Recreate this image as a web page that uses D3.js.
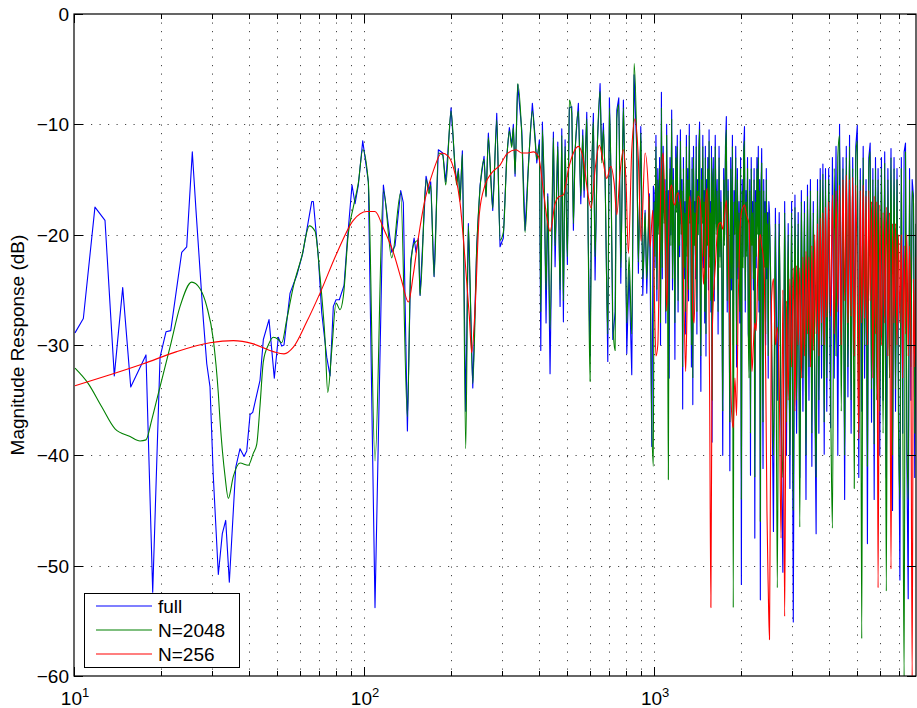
<!DOCTYPE html>
<html>
<head>
<meta charset="utf-8">
<script src="https://cdn.jsdelivr.net/npm/d3@7"></script>
<style>
	html, body { margin: 0; padding: 0; background: #fff; }
	svg { display: block; font-family: "Liberation Sans", Arial, Helvetica, sans-serif; }
</style>
</head>
<body>
<div id="chart"></div>
<script>
// ---- data (frequency in Hz, magnitude in dB) ----

// "full" response, low band
const fullLowFreq = [10.08, 10.77, 11.81, 12.79, 13.77, 14.72, 15.69, 17.71, 18.68, 19.80,
	20.76, 21.55, 23.52, 24.47, 25.58, 26.34, 27.92, 28.69, 29.44, 30.22,
	31.45, 32.46, 33.35, 34.32, 36.11, 37.36, 38.57, 39.41, 40.46, 41.33,
	43.79, 44.96, 47.03, 49.05, 50.63, 52.02, 52.98, 55.58, 58.61, 61.47,
	66.02, 66.86, 69.56, 71.48, 74.37, 76.35, 78.37, 80.07, 82.20, 85.31,
	87.58, 90.90, 93.12, 95.59, 98.97, 103.5, 109.1, 116.6, 124.6, 127.9,
	133.8, 136.6, 141.1, 144.9, 148.8, 151.1, 153.9, 156.0, 163.6, 167.6,
	169.8, 174.4, 180.4, 186.8, 191.3, 199.5, 206.0, 208.8, 211.4, 214.3,
	218.3, 224.2, 228.9, 237.1, 244.7, 251.2, 259.3, 263.4, 268.3, 277.8,
	286.8, 294.4, 302.2, 310.5, 317.0, 323.1, 327.2, 331.7, 338.8]
const fullLowDb = [-28.9, -27.6, -17.5, -18.7, -32.8, -24.8, -33.8, -30.9, -52.4, -31.1,
	-28.8, -28.7, -21.6, -21.1, -12.5, -17.8, -27.7, -31.7, -33.8, -41.9,
	-50.8, -47.1, -45.9, -51.5, -41.1, -39.4, -40.1, -39.6, -36.3, -36.1,
	-33.2, -29.5, -27.7, -33.0, -29.3, -30.1, -30.0, -25.3, -23.7, -21.7,
	-17.0, -17.0, -22.0, -27.1, -31.1, -32.8, -26.5, -25.9, -25.9, -24.6,
	-20.5, -15.5, -17.2, -15.5, -11.5, -15.2, -53.8, -15.5, -21.6, -21.0,
	-16.0, -17.1, -37.8, -22.3, -20.3, -21.6, -20.3, -25.5, -14.7, -16.0,
	-15.2, -23.8, -12.3, -12.6, -15.2, -8.5, -13.9, -15.2, -14.0, -16.8,
	-12.4, -36.0, -19.0, -33.9, -21.0, -15.5, -12.9, -16.5, -10.8, -17.8,
	-9.0, -21.1, -20.3, -12.9, -10.3, -11.9, -10.0, -14.7, -6.4]

// N=2048 response, low band
const n2048LowFreq = [10.08, 11.20, 12.46, 13.85, 15.61, 16.89, 17.71, 18.53, 19.53, 21.43,
	23.21, 25.46, 27.20, 28.69, 30.22, 31.45, 31.87, 33.17, 34.05, 35.43,
	37.36, 39.91, 41.53, 42.66, 43.79, 44.96, 46.77, 48.66, 50.63, 52.02,
	54.14, 57.05, 60.98, 64.77, 67.78, 70.51, 73.37, 74.97, 77.38, 80.07,
	82.65, 84.84, 88.28, 91.84, 95.59, 98.97, 103.5, 109.1, 116.6, 124.6,
	133.8, 141.1, 144.9, 148.8, 153.9, 156.0, 163.6, 167.6, 169.8, 174.4,
	180.4, 186.8, 191.3, 199.5, 206.0, 208.8, 211.4, 214.3, 218.3, 224.2,
	228.9, 237.1, 244.7, 251.2, 259.3, 263.4, 268.3, 277.8, 286.8, 294.4,
	302.2, 310.5, 317.0, 323.1, 327.2, 331.7, 338.8]
const n2048LowDb = [-32.1, -33.5, -35.6, -37.6, -38.3, -38.7, -38.6, -36.8, -34.4, -30.2,
	-26.5, -24.3, -24.9, -26.5, -29.5, -34.4, -36.8, -41.9, -43.9, -41.9,
	-40.7, -40.9, -39.8, -39.0, -35.5, -31.5, -30.0, -29.3, -29.5, -29.8,
	-27.7, -24.7, -22.0, -19.2, -19.7, -23.8, -29.5, -34.3, -30.5, -26.2,
	-26.8, -25.6, -19.9, -17.5, -15.3, -12.3, -15.3, -40.5, -16.0, -22.1,
	-16.2, -36.5, -22.8, -20.8, -20.5, -25.5, -15.0, -16.3, -15.5, -23.8,
	-12.6, -12.8, -15.5, -8.8, -14.0, -15.5, -14.2, -17.0, -12.7, -39.4,
	-19.2, -33.5, -21.2, -15.8, -13.2, -16.6, -11.2, -17.6, -9.6, -20.5,
	-19.8, -13.2, -10.6, -12.1, -10.3, -14.5, -6.3]

// mid band (350 Hz - 1 kHz), shared frequencies for full and N=2048
const midFreq = [349.8, 359.1, 368.6, 380.5, 388.8, 394.1, 402.3, 406.8, 412.0, 418.6,
	424.2, 430.0, 437.9, 449.6, 455.7, 465.6, 474.2, 480.6, 486.8, 493.4,
	502.4, 510.5, 520.3, 527.0, 534.1, 548.3, 558.9, 567.8, 573.7, 586.1,
	592.2, 601.7, 609.8, 617.6, 626.0, 637.5, 651.4, 660.2, 668.7, 677.8,
	692.5, 701.4, 710.9, 720.6, 733.8, 743.8, 755.7, 767.8, 783.8, 794.3,
	805.1, 819.9, 837.7, 853.2, 871.6, 882.8, 899.9, 914.3, 931.2, 943.8,
	963.4, 982.0, 994.5]
const fullMidDb = [-10.5, -19.6, -13.7, -8.1, -11.1, -13.5, -11.4, -30.5, -9.8, -16.6,
	-28.0, -16.3, -32.6, -10.7, -22.9, -11.6, -26.5, -10.4, -27.9, -11.4,
	-22.7, -8.5, -8.4, -19.6, -12.3, -8.1, -17.2, -10.5, -16.6, -8.9,
	-19.7, -31.0, -14.1, -9.0, -24.1, -11.7, -6.3, -13.2, -9.9, -14.7,
	-31.5, -7.6, -15.3, -29.5, -27.0, -8.7, -7.6, -24.4, -7.8, -16.0,
	-30.8, -23.2, -32.7, -5.5, -12.3, -23.5, -10.2, -25.5, -17.8, -25.3,
	-16.3, -39.2, -15.6]
const n2048MidDb = [-11.0, -19.8, -14.0, -8.8, -11.5, -13.2, -11.8, -27.0, -10.5, -16.0,
	-25.0, -16.5, -28.5, -11.2, -21.0, -12.0, -25.0, -11.0, -26.0, -12.0,
	-22.0, -7.8, -9.0, -19.0, -12.8, -8.8, -16.5, -11.0, -16.0, -9.5,
	-19.5, -33.3, -14.5, -9.8, -22.0, -12.0, -7.0, -13.5, -10.5, -15.0,
	-29.0, -8.5, -15.0, -28.0, -30.5, -9.5, -8.2, -23.0, -8.5, -16.5,
	-28.0, -22.0, -29.0, -4.5, -12.0, -22.5, -10.8, -24.0, -18.0, -24.0,
	-16.5, -37.0, -41.0]

// fine band 1 kHz - 2.5 kHz, full and N=2048
const fineFreq = [1000, 1007.5, 1015, 1022.5, 1030, 1037.5, 1045, 1052.5, 1060, 1067.5,
	1075, 1082.5, 1090, 1097.5, 1105, 1112.5, 1120, 1127.5, 1135, 1142.5,
	1150, 1157.5, 1165, 1172.5, 1180, 1187.5, 1195, 1202.5, 1210, 1217.5,
	1225, 1232.5, 1240, 1247.5, 1255, 1262.5, 1270, 1277.5, 1285, 1292.5,
	1300, 1307.5, 1315, 1322.5, 1330, 1337.5, 1345, 1352.5, 1360, 1367.5,
	1375, 1382.5, 1390, 1397.5, 1405, 1412.5, 1420, 1427.5, 1435, 1442.5,
	1450, 1457.5, 1465, 1472.5, 1480, 1487.5, 1495, 1502.5, 1510, 1517.5,
	1525, 1532.5, 1540, 1547.5, 1555, 1562.5, 1570, 1577.5, 1585, 1592.5,
	1600, 1612.5, 1625, 1637.5, 1650, 1662.5, 1675, 1687.5, 1700, 1712.5,
	1725, 1737.5, 1750, 1762.5, 1775, 1787.5, 1800, 1812.5, 1825, 1837.5,
	1850, 1862.5, 1875, 1887.5, 1900, 1912.5, 1925, 1937.5, 1950, 1962.5,
	1975, 1987.5, 2000, 2012.5, 2025, 2037.5, 2050, 2062.5, 2075, 2087.5,
	2100, 2112.5, 2125, 2137.5, 2150, 2162.5, 2175, 2187.5, 2200, 2212.5,
	2225, 2237.5, 2250, 2262.5, 2275, 2287.5, 2300, 2312.5, 2325, 2337.5,
	2350, 2362.5, 2375, 2387.5, 2400, 2412.5, 2425, 2437.5, 2450, 2462.5,
	2475, 2487.5]
const fullFineDb = [-16, -23, -11, -26, -14, -19, -13, -30, -7.1, -24,
	-12, -18, -15, -28, -10, -21, -16, -33, -13, -20,
	-8.7, -25, -14, -19, -31.3, -12, -17, -11, -27, -16,
	-22, -10.5, -19, -15, -35.8, -13, -24, -17, -29, -11,
	-21, -14, -26, -10, -18, -16, -32, -13, -35.4, -12,
	-20, -17, -24, -11, -29, -15, -19, -12, -9.8, -26,
	-34.2, -14, -18, -11, -23, -16, -28, -12, -31, -15,
	-20, -13, -25, -10.5, -22, -17, -27, -12, -38.8, -15,
	-13, -26, -11, -19, -15, -29, -12, -22, -16, -24,
	-40, -14, -20, -12, -9.3, -27, -15, -21, -41.4, -13,
	-25, -11, -30, -16, -19, -12, -32, -14, -24, -17,
	-28, -13, -51.7, -15, -22, -12, -10.2, -27, -16, -21,
	-13, -29, -30, -15, -41.8, -13, -20, -17, -25, -14,
	-47.5, -16, -23, -13, -19, -12, -27, -15, -53.1, -16,
	-12.2, -29, -41.2, -15, -22, -17, -30, -14, -24, -18,
	-33, -17]
const n2048FineDb = [-17, -22, -12, -25, -15, -20, -14, -28, -8.5, -23,
	-13, -19, -16, -27, -11, -22, -42.2, -18, -14, -21,
	-9.5, -24, -15, -20, -28, -13, -18, -12, -26, -17,
	-21, -11.5, -20, -16, -32, -14, -23, -18, -27, -12,
	-22, -15, -25, -11, -19, -17, -30, -14, -33, -13,
	-21, -18, -23, -12, -27, -16, -20, -13, -10.5, -25,
	-31, -15, -19, -12, -22, -17, -27, -13, -29, -16,
	-21, -14, -24, -11.5, -23, -18, -26, -13, -35, -16,
	-14, -25, -12, -20, -16, -27, -13, -23, -17, -23,
	-36, -15, -21, -13, -10.5, -26, -16, -22, -37, -14,
	-24, -12, -53.8, -17, -20, -13, -30, -15, -23, -18,
	-27, -14, -44, -16, -23, -13, -11.5, -26, -17, -22,
	-14, -28, -33, -16, -38, -14, -21, -18, -24, -15,
	-42, -17, -22, -14, -20, -13, -26, -16, -46, -17,
	-13.5, -28, -37, -16, -23, -18, -29, -15, -23, -19,
	-31, -18]

// N=256 response below 1 kHz
const n256Freq = [10.08, 13.31, 17.34, 22.60, 29.44, 35.43, 41.53, 48.66, 52.98, 57.05,
	63.45, 70.51, 80.51, 91.84, 102.2, 109.1, 116.6, 126.2, 134.9, 142.2,
	147.9, 153.9, 162.3, 173.4, 185.3, 195.3, 206.0, 214.3, 223.0, 230.7,
	235.1, 241.4, 249.8, 261.4, 275.6, 294.4, 310.5, 334.3, 349.8, 363.9,
	383.5, 399.1, 415.3, 426.6, 437.9, 455.7, 467.7, 486.8, 506.4, 527.0,
	548.3, 570.5, 593.6, 606.5, 626.0, 647.7, 668.7, 686.9, 709.0, 728.0,
	743.8, 763.2, 783.8, 800.6, 815.4, 837.7, 860.0, 882.8, 902.1, 931.2,
	955.7, 968.7, 989.7]
const n256Db = [-33.7, -32.7, -31.7, -30.6, -29.8, -29.6, -29.9, -30.6, -30.8, -30.2,
	-27.9, -25.3, -21.7, -18.7, -17.9, -17.9, -19.4, -21.6, -24.2, -26.1,
	-23.6, -20.3, -16.8, -14.2, -12.6, -12.9, -14.5, -17.1, -22.3, -27.4,
	-30.7, -26.8, -18.1, -15.5, -14.4, -13.7, -12.7, -12.3, -12.6, -12.6,
	-12.5, -12.9, -16.0, -18.4, -19.7, -17.2, -16.6, -16.4, -14.1, -12.6,
	-12.0, -13.2, -16.6, -17.6, -14.1, -11.9, -13.5, -14.9, -13.8, -15.3,
	-18.2, -14.4, -12.3, -15.3, -21.7, -12.3, -9.5, -13.2, -20.6, -12.6,
	-16.0, -21.1, -17.8]

// N=256 response 1 kHz - 2.5 kHz
const n256BandFreq = [1000, 1015, 1030, 1045, 1060, 1075, 1090, 1105, 1120, 1135,
	1150, 1165, 1180, 1195, 1210, 1225, 1240, 1255, 1270, 1285,
	1300, 1315, 1330, 1345, 1360, 1375, 1390, 1405, 1420, 1435,
	1450, 1465, 1480, 1495, 1510, 1525, 1540, 1555, 1570, 1585,
	1600, 1625, 1650, 1675, 1700, 1725, 1750, 1775, 1800, 1825,
	1850, 1875, 1900, 1925, 1950, 1975, 2000, 2025, 2050, 2075,
	2100, 2125, 2150, 2175, 2200, 2225, 2250, 2275, 2300, 2325,
	2350, 2375, 2400, 2425, 2450, 2475]
const n256BandDb = [-24, -31, -30, -21, -14, -12.6, -18, -26.9, -21, -16,
	-15.5, -17, -17.3, -16.5, -16.2, -16.7, -18, -21, -27, -32.4,
	-26, -18, -16.5, -20, -27, -28, -22, -18, -16.5, -16.7,
	-18, -21, -24.5, -22, -17, -15.8, -20, -35, -53.8, -30,
	-26, -23, -20, -19, -18.9, -19.5, -18.2, -16.9, -21, -28,
	-36, -37.5, -33, -36.4, -26, -20, -18, -17.5, -17.3, -18,
	-18.5, -19, -25, -32.4, -30, -28, -28.7, -24, -20.6, -20,
	-21, -21.8, -24, -32, -45, -52]

// dense band 2.5 kHz - 8 kHz, shared frequencies for all three series
const denseFreq = [2500, 2540, 2580, 2620, 2660, 2700, 2740, 2780, 2820, 2860,
	2900, 2940, 2980, 3020, 3060, 3100, 3140, 3180, 3220, 3260,
	3300, 3340, 3380, 3420, 3460, 3500, 3540, 3580, 3620, 3660,
	3700, 3740, 3780, 3820, 3860, 3900, 3940,
	4000, 4060, 4120, 4180, 4240, 4300, 4360, 4420, 4480, 4540,
	4600, 4660, 4720, 4780, 4840, 4900, 4960, 5020, 5080, 5140,
	5200, 5260, 5320, 5380, 5440, 5500, 5560, 5620, 5680, 5740,
	5800, 5860, 5920,
	6000, 6080, 6160, 6240, 6320, 6400, 6480, 6560, 6640, 6720,
	6800, 6880, 6960, 7040, 7120, 7200, 7280, 7360, 7440, 7520,
	7600, 7680, 7760, 7840, 7920, 8000]
const fullDenseDb = [-18, -30, -46.9, -17.6, -35, -18, -38, -50.6, -17, -40,
	-19, -43, -17, -55.1, -16.4, -38, -18, -42, -16, -36,
	-17, -44, -15.5, -35, -15, -41, -17, -34, -47.1, -15,
	-38, -14, -33, -13.6, -39.9, -14, -36,
	-14, -37.5, -13, -33, -12, -40, -10, -30, -13, -44,
	-12, -34.7, -11, -38, -13, -31, -12, -10.1, -42, -14,
	-36, -12, -33, -15, -48, -13, -11.7, -37, -14, -44,
	-13, -32, -14,
	-40, -13, -35, -12.5, -42, -14, -31, -12.2, -45, -13,
	-36, -14, -33, -51.3, -13, -38, -12.5, -11.7, -40, -53,
	-14, -35, -15, -16.5, -42, -20]
const n2048DenseDb = [-19, -28, -40, -19, -52, -19, -35, -42, -18, -37,
	-20, -40, -18, -45, -17.5, -35, -19, -46.5, -17, -33,
	-18, -40, -16.5, -32, -16, -38, -18, -31, -42, -16,
	-35, -15, -30, -14.5, -37, -15, -33,
	-15, -34, -46.6, -14, -31, -13, -11, -36, -14, -40,
	-13, -32, -12, -35, -14, -43, -13, -11.5, -38, -15,
	-56.6, -13, -30, -16, -41, -14, -12.5, -34, -15, -39,
	-14, -35, -15,
	-36, -14, -38, -13.5, -52.3, -15, -33, -13, -40, -14,
	-34, -15, -37, -44, -14, -35, -60, -12.5, -37, -44,
	-15, -32, -16, -17, -38, -19]
const n256DenseDb = [-56.7, -26, -24, -30, -28.4, -33, -47.5, -25, -54.6, -26,
	-35, -24, -32, -23, -36, -22.8, -30, -23, -33, -22,
	-31, -21.5, -29, -22, -32, -21, -30.5, -20, -29, -19,
	-31, -18.5, -28, -18, -30, -17.5, -27.5,
	-17, -27.4, -16.4, -29, -16, -27, -15.5, -30, -15, -26,
	-14.6, -28, -15, -27.4, -14.8, -31, -15.5, -26, -38.5, -16,
	-28, -15.5, -27.6, -16.5, -30, -16, -26, -17, -33, -16.5,
	-29, -17, -52,
	-17.3, -30, -18, -28, -17.5, -31, -18, -50.3, -19, -28,
	-19, -30, -20, -28, -20, -33, -21, -29, -20, -31,
	-21, -30, -60, -24, -32, -22]

// axes / legend text
const yTicks = [0, -10, -20, -30, -40, -50, -60]
const xDomain = [10, 8000]
const yDomain = [-60, 0]
const legendNames = ["full", "N=2048", "N=256"]
const yLabel = "Magnitude Response (dB)"

// ---- layout ----
const config = {
	width: 917,
	height: 708,
	left: 74,
	right: 916,
	top: 14,
	bottom: 676,
	fontSize: 19,
	colors: ["#0000ff", "#008000", "#ff0000"],
}

const x = d3.scaleLog().domain(xDomain).range([config.left, config.right])
const y = d3.scaleLinear().domain(yDomain).range([config.bottom, config.top])

const zip = (f, v) => f.map((d, i) => [d, v[i]])

const series = [
	{ name: legendNames[0], color: config.colors[0], curve: d3.curveLinear,
		points: zip(fullLowFreq.concat(midFreq, fineFreq, denseFreq),
			fullLowDb.concat(fullMidDb, fullFineDb, fullDenseDb)) },
	{ name: legendNames[1], color: config.colors[1], curve: d3.curveMonotoneX,
		points: zip(n2048LowFreq.concat(midFreq, fineFreq, denseFreq),
			n2048LowDb.concat(n2048MidDb, n2048FineDb, n2048DenseDb)) },
	{ name: legendNames[2], color: config.colors[2], curve: d3.curveMonotoneX,
		points: zip(n256Freq.concat(n256BandFreq, denseFreq),
			n256Db.concat(n256BandDb, n256DenseDb)) },
]

const svg = d3.select("#chart")
	.append("svg")
	.attr("width", config.width)
	.attr("height", config.height)
	.style("width", `${config.width}px`)
	.style("height", `${config.height}px`)

_renderGrid(svg)
_renderLines(svg)
_renderAxes(svg)
_renderLegend(svg)

function _renderGrid(svg) {
	const g = svg.append("g").attr("class", "grid")
		.attr("stroke", "#333")
		.attr("stroke-width", 0.9)
		.attr("stroke-dasharray", "1.2,7.3")

	// every decade / sub-decade tick gets a dotted line
	const xGrid = x.ticks().filter(d => d > xDomain[0] && d < xDomain[1])
	g.selectAll("line.xg")
		.data(xGrid)
		.enter()
		.append("line")
		.attr("class", "xg")
		.attr("x1", d => Math.round(x(d)) + 0.5)
		.attr("x2", d => Math.round(x(d)) + 0.5)
		.attr("y1", config.top)
		.attr("y2", config.bottom)

	g.selectAll("line.yg")
		.data(yTicks.filter(d => d > yDomain[0] && d < yDomain[1]))
		.enter()
		.append("line")
		.attr("class", "yg")
		.attr("x1", config.left)
		.attr("x2", config.right)
		.attr("y1", d => Math.round(y(d)) + 0.5)
		.attr("y2", d => Math.round(y(d)) + 0.5)
}

function _renderLines(svg) {
	svg.append("clipPath")
		.attr("id", "plot-clip")
		.append("rect")
		.attr("x", config.left)
		.attr("y", config.top)
		.attr("width", config.right - config.left)
		.attr("height", config.bottom - config.top)

	const g = svg.append("g").attr("clip-path", "url(#plot-clip)")

	series.forEach(s => {
		const line = d3.line()
			.x(d => x(d[0]))
			.y(d => y(d[1]))
			.curve(s.curve)

		g.append("path")
			.datum(s.points)
			.attr("fill", "none")
			.attr("stroke", s.color)
			.attr("stroke-width", 1.1)
			.attr("stroke-linejoin", "round")
			.attr("d", line)
	})
}

function _renderAxes(svg) {
	const g = svg.append("g").attr("class", "axes")

	// box
	g.append("rect")
		.attr("x", config.left)
		.attr("y", config.top)
		.attr("width", config.right - config.left)
		.attr("height", config.bottom - config.top)
		.attr("fill", "none")
		.attr("stroke", "#000")
		.attr("stroke-width", 1.2)

	// x ticks (inside, bottom and top)
	const xt = x.ticks().filter(d => d < xDomain[1])
	const isMajor = d => Math.abs(Math.log10(d) - Math.round(Math.log10(d))) < 1e-9
	xt.forEach(d => {
		const px = Math.round(x(d)) + 0.5
		const len = isMajor(d) ? 9 : 5
		g.append("line").attr("x1", px).attr("x2", px)
			.attr("y1", config.bottom).attr("y2", config.bottom - len)
			.attr("stroke", "#000").attr("stroke-width", 1)
		g.append("line").attr("x1", px).attr("x2", px)
			.attr("y1", config.top).attr("y2", config.top + len)
			.attr("stroke", "#000").attr("stroke-width", 1)
	})

	// y ticks (inside, left and right)
	yTicks.forEach(d => {
		const py = Math.round(y(d)) + 0.5
		g.append("line").attr("x1", config.left).attr("x2", config.left + 9)
			.attr("y1", py).attr("y2", py)
			.attr("stroke", "#000").attr("stroke-width", 1)
		g.append("line").attr("x1", config.right).attr("x2", config.right - 9)
			.attr("y1", py).attr("y2", py)
			.attr("stroke", "#000").attr("stroke-width", 1)
	})

	// y tick labels
	g.selectAll("text.ylab")
		.data(yTicks)
		.enter()
		.append("text")
		.attr("class", "ylab")
		.attr("x", config.left - 5)
		.attr("y", d => y(d))
		.attr("dy", "0.36em")
		.attr("text-anchor", "end")
		.style("font-size", `${config.fontSize}px`)
		.text(d => (d < 0 ? "\u2212" + Math.abs(d) : String(d)))

	// x tick labels: 10^n
	const decades = xt.filter(isMajor)
	decades.forEach(d => {
		const t = g.append("text")
			.attr("x", x(d) + 1)
			.attr("y", 705)
			.attr("text-anchor", "middle")
			.style("font-size", `${config.fontSize}px`)
		t.append("tspan").text("10")
		t.append("tspan")
			.attr("dy", -8)
			.style("font-size", "13px")
			.text(String(Math.round(Math.log10(d))))
	})

	// y axis title
	g.append("text")
		.attr("transform", `translate(24, ${(config.top + config.bottom) / 2}) rotate(-90)`)
		.attr("text-anchor", "middle")
		.style("font-size", `${config.fontSize}px`)
		.text(yLabel)
}

function _renderLegend(svg) {
	const lx = 84, ly = 593, lw = 155, lh = 74
	const g = svg.append("g").attr("class", "legend")

	g.append("rect")
		.attr("x", lx + 0.5)
		.attr("y", ly + 0.5)
		.attr("width", lw)
		.attr("height", lh)
		.attr("fill", "#fff")
		.attr("stroke", "#000")
		.attr("stroke-width", 1)

	const rows = g.selectAll("g.row")
		.data(series)
		.enter()
		.append("g")
		.attr("class", "row")
		.attr("transform", (d, i) => `translate(${lx}, ${ly + 13 + i * 24})`)

	rows.append("line")
		.attr("x1", 12)
		.attr("x2", 68)
		.attr("stroke", d => d.color)
		.attr("stroke-width", 1.1)

	rows.append("text")
		.attr("x", 74)
		.attr("dy", "0.36em")
		.style("font-size", `${config.fontSize}px`)
		.text(d => d.name)
}
</script>
</body>
</html>
